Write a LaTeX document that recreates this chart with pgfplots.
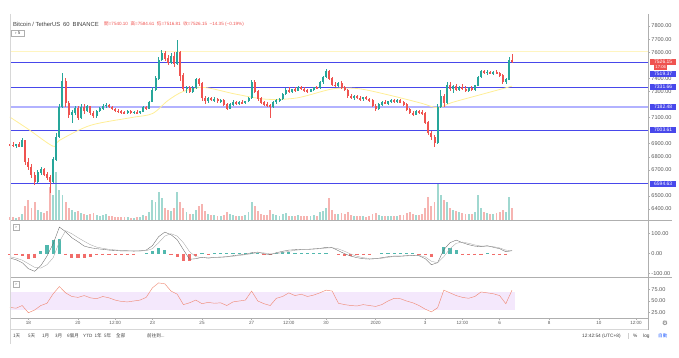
\documentclass[border=0pt]{standalone}
\usepackage{fontspec}
\setmainfont{Liberation Sans}
\newfontfamily\cjk{Noto Sans CJK TC}
\newfontfamily\dejavu{DejaVu Sans}
\usepackage{pgfplots}
\usepackage{pgfplotstable}
\pgfplotsset{compat=1.18}

\definecolor{up}{RGB}{38,166,154}
\definecolor{dn}{RGB}{239,83,80}
\definecolor{upv}{RGB}{160,216,208}
\definecolor{dnv}{RGB}{246,180,177}
\definecolor{lvlc}{RGB}{72,72,235}
\definecolor{lvlb}{RGB}{178,178,255}
\definecolor{mac}{RGB}{255,238,150}
\definecolor{band}{RGB}{244,232,252}
\definecolor{rsil}{RGB}{240,140,120}
\definecolor{sep}{RGB}{175,175,175}
\definecolor{txt}{RGB}{90,90,90}
\definecolor{autob}{RGB}{41,98,255}

% hours from 18 Dec 00:00 (UTC+8), 3-hour candles; v = volume height
\pgfplotstableread{
t o h l c v
-18 6895 6905 6880 6890 3
-15 6890 6910 6875 6885 3
-12 6885 6900 6870 6892 2
-9 6892 6915 6880 6880 3
-6 6880 6940 6875 6925 6
-3 6925 6930 6740 6760 14
0 6760 6790 6700 6720 20
3 6720 6745 6640 6660 12
6 6660 6680 6583 6610 18
9 6610 6700 6600 6680 10
12 6680 6720 6660 6705 8
15 6705 6715 6650 6665 7
18 6665 6680 6620 6640 9
21 6640 6660 6520 6610 33
24 6610 6800 6600 6780 25
27 6780 6980 6770 6950 48
30 6950 7200 6940 7180 30
33 7180 7440 7170 7380 25
36 7380 7400 7180 7210 18
39 7210 7230 7100 7120 12
42 7120 7160 7058 7140 10
45 7140 7190 7120 7170 8
48 7170 7185 7080 7100 9
51 7100 7200 7090 7180 7
54 7180 7200 7130 7150 6
57 7150 7195 7140 7185 5
60 7185 7190 7120 7135 6
63 7135 7150 7096 7110 7
66 7110 7160 7100 7150 5
69 7150 7180 7140 7170 4
72 7170 7200 7160 7190 5
75 7190 7210 7175 7195 6
78 7195 7205 7170 7180 4
81 7180 7190 7160 7165 4
84 7165 7175 7145 7150 3
87 7150 7165 7135 7145 3
90 7145 7160 7130 7140 3
93 7140 7150 7125 7135 3
96 7135 7155 7125 7145 3
99 7145 7158 7130 7138 2
102 7138 7150 7128 7142 2
105 7142 7155 7130 7135 3
108 7135 7150 7125 7145 3
111 7145 7185 7140 7175 5
114 7175 7190 7160 7170 4
117 7170 7230 7165 7220 8
120 7220 7330 7215 7310 20
123 7310 7420 7300 7400 18
126 7400 7560 7390 7540 28
129 7540 7616 7530 7595 22
132 7595 7610 7530 7550 12
135 7550 7580 7500 7520 10
138 7520 7590 7510 7570 9
141 7570 7600 7490 7510 12
144 7510 7695 7500 7600 28
147 7600 7610 7380 7420 18
150 7420 7440 7300 7320 12
153 7320 7345 7290 7330 8
156 7330 7340 7290 7300 6
159 7300 7340 7290 7325 6
162 7325 7405 7315 7390 10
165 7390 7402 7340 7360 14
168 7360 7370 7230 7250 16
171 7250 7265 7200 7225 9
174 7225 7260 7215 7245 6
177 7245 7258 7225 7235 5
180 7235 7255 7220 7240 5
183 7240 7250 7215 7225 4
186 7225 7245 7210 7235 4
189 7235 7240 7190 7200 5
192 7200 7210 7157 7170 8
195 7170 7210 7165 7200 6
198 7200 7235 7190 7220 5
201 7220 7230 7195 7205 4
204 7205 7225 7195 7215 4
207 7215 7235 7200 7210 4
210 7210 7230 7200 7225 5
213 7225 7260 7220 7250 8
216 7250 7390 7245 7370 18
219 7370 7387 7290 7300 14
222 7300 7310 7230 7245 9
225 7245 7255 7200 7215 6
228 7215 7230 7190 7200 5
231 7200 7220 7180 7195 5
234 7195 7205 7096 7180 10
237 7180 7230 7170 7220 6
240 7220 7245 7205 7235 5
243 7235 7250 7220 7240 4
246 7240 7290 7235 7280 6
249 7280 7325 7270 7310 7
252 7310 7330 7290 7300 4
255 7300 7320 7290 7315 4
258 7315 7330 7295 7305 4
261 7305 7340 7300 7330 5
264 7330 7345 7310 7320 4
267 7320 7330 7295 7305 4
270 7305 7320 7290 7300 4
273 7300 7320 7295 7315 4
276 7315 7335 7305 7330 5
279 7330 7345 7315 7325 4
282 7325 7380 7320 7370 8
285 7370 7420 7360 7410 9
288 7410 7470 7400 7455 12
291 7455 7463 7390 7400 22
294 7400 7410 7340 7350 10
297 7350 7370 7330 7345 6
300 7345 7375 7335 7365 6
303 7365 7380 7320 7330 7
306 7330 7345 7300 7310 6
309 7310 7320 7250 7265 8
312 7265 7280 7245 7255 5
315 7255 7270 7235 7260 4
318 7260 7275 7240 7250 4
321 7250 7265 7230 7240 4
324 7240 7260 7230 7255 4
327 7255 7265 7235 7240 3
330 7240 7250 7220 7230 4
333 7230 7240 7180 7190 6
336 7190 7200 7150 7170 7
339 7170 7210 7160 7200 5
342 7200 7225 7190 7215 4
345 7215 7235 7200 7205 4
348 7205 7230 7195 7225 4
351 7225 7240 7210 7230 4
354 7230 7245 7215 7220 4
357 7220 7240 7210 7235 4
360 7235 7245 7210 7215 5
363 7215 7225 7190 7200 5
366 7200 7210 7150 7160 7
369 7160 7170 7125 7135 8
372 7135 7150 7115 7125 6
375 7125 7160 7120 7150 5
378 7150 7160 7130 7140 5
381 7140 7155 7120 7130 6
384 7130 7140 7050 7060 12
387 7060 7070 6970 6980 23
390 6980 6995 6930 6950 14
393 6950 6970 6874 6910 18
396 6910 7200 6900 7180 37
399 7180 7310 7170 7260 25
402 7260 7280 7180 7210 20
405 7210 7370 7200 7350 18
408 7350 7370 7300 7320 12
411 7320 7350 7290 7340 10
414 7340 7360 7300 7310 9
417 7310 7345 7300 7335 8
420 7335 7355 7310 7320 7
423 7320 7340 7295 7305 6
426 7305 7330 7295 7325 6
429 7325 7340 7300 7310 6
432 7310 7350 7305 7345 8
435 7345 7420 7340 7410 25
438 7410 7465 7400 7455 12
441 7455 7463 7430 7445 8
444 7445 7460 7425 7450 7
447 7450 7458 7430 7435 6
450 7435 7455 7425 7448 6
453 7448 7462 7435 7440 7
456 7440 7450 7410 7420 8
459 7420 7430 7360 7375 10
462 7375 7400 7355 7390 8
465 7390 7560 7385 7540 23
468 7540 7584 7516 7526 12
}\candles

% MACD (m), signal (s), RSI (r)
\pgfplotstableread{
t m s r
-18 -22 -15 36
-12 -30 -22 34
-6 -45 -32 40
0 -75 -50 24
6 -88 -68 30
12 -60 -72 40
18 -12 -55 45
24 50 -20 66
30 133 60 82
36 110 115 68
42 80 100 60
48 60 80 58
54 38 62 62
60 30 45 57
66 25 33 55
72 22 27 60
78 18 22 57
84 16 19 52
90 14 16 49
96 14 15 48
102 13 14 50
108 14 14 52
114 18 15 58
120 40 25 79
126 85 55 90
132 108 88 88
138 95 100 72
144 70 88 65
150 20 55 42
156 -28 10 46
162 -25 -15 52
168 -18 -20 44
174 -22 -21 47
180 -18 -20 45
186 -17 -18 46
192 -15 -16 40
198 -10 -13 48
204 -6 -9 50
210 -3 -5 52
216 5 0 72
222 8 5 50
228 0 4 44
234 -5 -1 40
240 5 0 56
246 12 6 60
252 18 12 68
258 20 17 62
264 22 20 65
270 22 21 60
276 24 23 63
282 26 25 68
288 32 28 74
294 30 30 72
300 15 24 45
306 0 12 42
312 -12 -2 40
318 -20 -13 39
324 -25 -20 42
330 -27 -24 40
336 -25 -25 38
342 -20 -23 42
348 -15 -18 50
354 -12 -14 56
360 -12 -13 55
366 -10 -11 50
372 -8 -9 46
378 -10 -9 40
384 -25 -16 32
390 -55 -38 26
396 -45 -45 35
402 20 -15 74
408 55 25 68
414 68 52 62
420 55 58 58
426 45 52 56
432 38 44 60
438 35 38 70
444 40 38 68
450 32 35 66
456 25 29 62
462 10 18 44
468 15 15 74
}\ind

\pgfplotstableread{
t a
-18 7104
0 7010
24 6880
30 6925
60 7040
100 7100
120 7130
135 7230
150 7300
170 7330
200 7280
230 7240
260 7250
295 7320
320 7320
350 7270
380 7210
396 7175
410 7215
440 7280
468 7340
}\maline

\pgfplotsset{
  panel/.style={scale only axis, width=638bp, xmin=-17.8, xmax=599.6,
    anchor=south west, axis line style={draw=none}, xtick=\empty,
    clip=false, ytick pos=right, yticklabel pos=right, tick align=outside,
    major tick length=2bp, tick style={draw=sep, line width=0.4bp},
    yticklabel style={font=\fontsize{5.6}{6}\selectfont, text=txt, inner sep=1.2bp}},
  body/.style={draw=none, mark=none, forget plot, error bars/.cd, y dir=both, y explicit, error mark=none, error bar style={draw=#1, line width=2.0bp}},
  wick/.style={draw=none, mark=none, forget plot, error bars/.cd, y dir=both, y explicit, error mark=none, error bar style={draw=#1, line width=0.45bp}},
  level/.style={forget plot, no marks, line width=0.7bp, color=lvlc},
}
\tikzset{tag/.style={fill=#1, text=white, font=\fontsize{5}{6}\selectfont, inner sep=0.4bp, minimum width=26bp, minimum height=6bp, anchor=west}}

\begin{document}
\begin{tikzpicture}
\useasboundingbox (0,0) rectangle (679bp,358bp);

% volume
\begin{axis}[panel, at={(10bp,138bp)}, height=206bp, ymin=0, ymax=206, ytick=\empty]
\addplot[ycomb, color=upv, line width=1.9bp, mark=none, forget plot, restrict expr to domain={\thisrow{c}-\thisrow{o}}{0:100000}] table[x=t,y=v]{\candles};
\addplot[ycomb, color=dnv, line width=1.9bp, mark=none, forget plot, restrict expr to domain={\thisrow{c}-\thisrow{o}}{-100000:-0.01}] table[x=t,y=v]{\candles};
\end{axis}

% price
\begin{axis}[panel, at={(10bp,138bp)}, height=206bp, ymin=6316, ymax=7892,
  ytick={6400,6500,6700,6800,6900,7100,7300,7400,7600,7700,7800},
  yticklabels={6400.00,6500.00,6700.00,6800.00,6900.00,7100.00,7300.00,7400.00,7600.00,7700.00,7800.00}]
\addplot[forget plot, no marks, color=mac!60, line width=0.5bp] coordinates {(-17.8,7605) (599.6,7605)};
\addplot[level] coordinates {(-17.8,7519.37) (599.6,7519.37)};
\addplot[level] coordinates {(-17.8,7331.66) (599.6,7331.66)};
\addplot[level, color=lvlb, line width=1.9bp] coordinates {(-17.8,7182.48) (599.6,7182.48)};
\addplot[level] coordinates {(-17.8,7003.61) (599.6,7003.61)};
\addplot[level] coordinates {(-17.8,6594.63) (599.6,6594.63)};
\addplot[color=mac, line width=0.8bp, smooth, no marks] table[x=t,y=a]{\maline};
\addplot[restrict expr to domain={\thisrow{c}-\thisrow{o}}{0:100000}, wick=up] table[x=t, y expr={(\thisrow{h}+\thisrow{l})/2}, y error expr={(\thisrow{h}-\thisrow{l})/2}]{\candles};
\addplot[restrict expr to domain={\thisrow{c}-\thisrow{o}}{-100000:-0.01}, wick=dn] table[x=t, y expr={(\thisrow{h}+\thisrow{l})/2}, y error expr={(\thisrow{h}-\thisrow{l})/2}]{\candles};
\addplot[restrict expr to domain={\thisrow{c}-\thisrow{o}}{0:100000}, body=up] table[x=t, y expr={(\thisrow{o}+\thisrow{c})/2}, y error expr={abs(\thisrow{c}-\thisrow{o})/2+2}]{\candles};
\addplot[restrict expr to domain={\thisrow{c}-\thisrow{o}}{-100000:-0.01}, body=dn] table[x=t, y expr={(\thisrow{o}+\thisrow{c})/2}, y error expr={abs(\thisrow{c}-\thisrow{o})/2+2}]{\candles};
\node[tag=dn] at (axis cs:599.6,7526.15) [xshift=2bp] {7526.15};
\node[tag=dn, minimum width=13bp, font=\fontsize{4.2}{5}\selectfont] at (axis cs:599.6,7526.15) [xshift=6bp, yshift=-5.5bp] {17:06};
\node[tag=lvlc] at (axis cs:599.6,7519.37) [xshift=2bp, yshift=-11bp] {7519.37};
\node[tag=lvlc] at (axis cs:599.6,7331.66) [xshift=2bp] {7331.66};
\node[tag=lvlc] at (axis cs:599.6,7182.48) [xshift=2bp] {7182.48};
\node[tag=lvlc] at (axis cs:599.6,7003.61) [xshift=2bp] {7003.61};
\node[tag=lvlc] at (axis cs:599.6,6594.63) [xshift=2bp] {6594.63};
\end{axis}

% MACD
\begin{axis}[panel, at={(10bp,81bp)}, height=57bp, ymin=-116.5, ymax=168.5,
  ytick={-100,0,100}, yticklabels={-100.00,0.00,100.00}]
\addplot[ycomb, color=up!80, line width=3.2bp, mark=none, forget plot, restrict y to domain=0:1000] table[x=t, y expr={\thisrow{m}-\thisrow{s}}]{\ind};
\addplot[ycomb, color=dn!85, line width=3.2bp, mark=none, forget plot, restrict y to domain=-1000:-0.01] table[x=t, y expr={\thisrow{m}-\thisrow{s}}]{\ind};
\addplot[color=black!60, line width=0.35bp, no marks] table[x=t,y=m]{\ind};
\addplot[color=black!35, line width=0.35bp, no marks] table[x=t,y=s]{\ind};
\end{axis}

% RSI
\begin{axis}[panel, at={(10bp,40bp)}, height=41bp, ymin=12.4, ymax=103.1,
  ytick={25,50,75}, yticklabels={25.00,50.00,75.00},
  xtick={0,48,84,120,168,216,252,288,336,384,420,456,504,552,588},
  xticklabels={18,20,12:00,23,25,27,12:00,30,2020,3,12:00,6,8,10,12:00},
  xtick pos=bottom, xticklabel style={font=\fontsize{4.6}{5}\selectfont, text=txt, inner sep=1.2bp}]
\addplot[draw=none, fill=band, forget plot] coordinates {(-17.8,30) (471,30) (471,70) (-17.8,70)} -- cycle;
\addplot[color=rsil, line width=0.45bp, no marks] table[x=t,y=r]{\ind};
\end{axis}

% frame lines
\draw[sep, line width=0.5bp] (10bp,138bp) -- (672bp,138bp);
\draw[sep, line width=0.5bp] (10bp,81bp) -- (672bp,81bp);
\draw[sep, line width=0.5bp] (10bp,40bp) -- (648bp,40bp);
\draw[sep!50, line width=0.4bp] (10bp,29bp) -- (648bp,29bp);
\draw[sep, line width=0.5bp] (648bp,344bp) -- (648bp,28bp);
\draw[sep!50, line width=0.4bp] (10bp,344bp) -- (10bp,14bp);

% title and legend
\node[anchor=west, inner sep=0, text=black!75, font=\fontsize{5.9}{6}\selectfont] at (13bp,334bp) {Bitcoin / TetherUS\enspace 60\enspace BINANCE};
\node[anchor=west, inner sep=0, text=dn, font=\fontsize{4.6}{6}\selectfont] at (104bp,334bp) {{\cjk 開}=7540.10\ \ {\cjk 高}=7584.61\ \ {\cjk 低}=7516.81\ \ {\cjk 收}=7526.15\ \ −14.35 (−0.19\%)};
\node[draw=sep, inner sep=0.6bp, minimum width=13bp, minimum height=6bp, text=black!70, font=\fontsize{4.5}{5}\selectfont, anchor=west] at (11bp,325bp) {› 5};
\node[draw=sep, inner sep=0.5bp, minimum width=6bp, minimum height=6bp, text=black!70, font=\fontsize{4.5}{5}\selectfont] at (16bp,130.5bp) {›};
\node[draw=sep, inner sep=0.5bp, minimum width=6bp, minimum height=6bp, text=black!70, font=\fontsize{4.5}{5}\selectfont] at (16bp,74bp) {›};

% gear
\node[text=black!60, font=\dejavu\fontsize{6.5}{7}\selectfont] at (665bp,35bp) {⚙};

% toolbar
\begin{scope}[every node/.style={anchor=west, inner sep=0, text=black!75, font=\cjk\fontsize{4.6}{6}\selectfont}]
\node at (13bp,22bp) {1天};
\node at (28bp,22bp) {5天};
\node at (42bp,22bp) {1月};
\node at (55bp,22bp) {3月};
\node at (67bp,22bp) {6個月};
\node[font=\fontsize{4.6}{6}\selectfont] at (83bp,22bp) {YTD};
\node at (94.5bp,22bp) {1年};
\node at (104bp,22bp) {5年};
\node at (116bp,22bp) {全部};
\node at (147bp,22bp) {前往到...};
\node[font=\fontsize{4.8}{6}\selectfont] at (582bp,22bp) {12:42:54 (UTC+8)};
\node[font=\fontsize{4.8}{6}\selectfont] at (633bp,22bp) {\%};
\node[font=\fontsize{4.8}{6}\selectfont] at (643bp,22bp) {log};
\node[text=autob] at (658bp,22bp) {自動};
\end{scope}
\draw[sep!60, line width=0.4bp] (628bp,19bp) -- (628bp,25bp);
\end{tikzpicture}
\end{document}
